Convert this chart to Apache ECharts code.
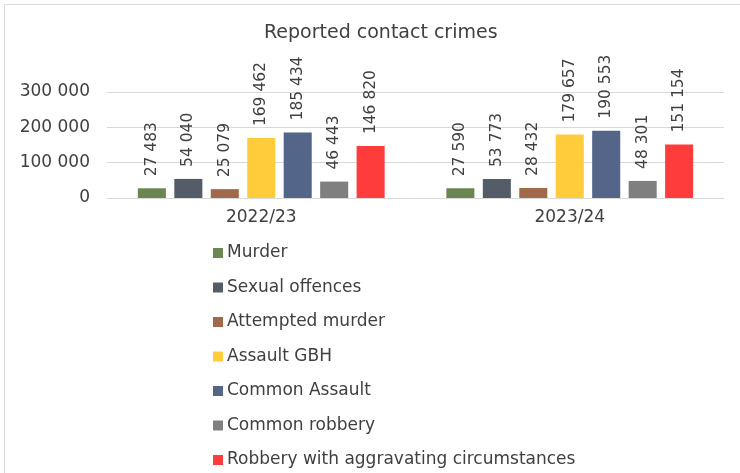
<!DOCTYPE html>
<html>
<head>
<meta charset="utf-8">
<script src="https://cdn.jsdelivr.net/npm/echarts@6/dist/echarts.min.js"></script>
<style>
  html, body { margin: 0; padding: 0; background: #fff; }
  #chart { width: 740px; height: 473px; }
</style>
</head>
<body>
<div id="chart"></div>
<script>
// Reported contact crimes by financial year
const years = ['2022/23', '2023/24'];
const crimeTypes = ['Murder', 'Sexual offences', 'Attempted murder', 'Assault GBH',
  'Common Assault', 'Common robbery', 'Robbery with aggravating circumstances'];
const murder = [27483, 27590];
const sexualOffences = [54040, 53773];
const attemptedMurder = [25079, 28432];
const assaultGBH = [169462, 179657];
const commonAssault = [185434, 190553];
const commonRobbery = [46443, 48301];
const aggravatedRobbery = [146820, 151154];
const yTicks = [0, 100000, 200000, 300000];

const seriesValues = [murder, sexualOffences, attemptedMurder, assaultGBH,
  commonAssault, commonRobbery, aggravatedRobbery];
const colors = ['#6a8752', '#545c67', '#a1694a', '#ffcd3b', '#536589', '#7f7f7f', '#ff3c3c'];

// Space as thousands separator, e.g. 169 462
function fmt(v) {
  return String(v).replace(/\B(?=(\d{3})+(?!\d))/g, ' ');
}

const FONT = 'DejaVu Sans, sans-serif';
const TEXT = '#404040';

const chart = echarts.init(document.getElementById('chart'), null, { renderer: 'canvas' });
chart.setOption({
  animation: false,
  color: colors,
  title: {
    text: 'Reported contact crimes',
    left: 259,
    top: 19,
    textStyle: { fontFamily: FONT, fontSize: 19, fontWeight: 'normal', color: TEXT }
  },
  graphic: [{
    type: 'rect',
    shape: { x: 4.5, y: 4.5, width: 760, height: 500 },
    style: { fill: 'none', stroke: '#d9d9d9', lineWidth: 1 },
    silent: true
  }],
  legend: {
    orient: 'vertical',
    left: 208,
    top: 239,
    height: 230,
    itemWidth: 10,
    itemHeight: 10,
    itemGap: 16.5,
    icon: 'rect',
    textStyle: { fontFamily: FONT, fontSize: 17, color: TEXT, lineHeight: 18, padding: [0, 0, 0, -1] },
    data: crimeTypes
  },
  grid: { left: 107, right: 16, top: 92, height: 106, containLabel: false },
  xAxis: {
    type: 'category',
    data: years,
    axisLine: { lineStyle: { color: '#d9d9d9' } },
    axisTick: { show: false },
    axisLabel: { fontFamily: FONT, fontSize: 17, color: TEXT, margin: 11 }
  },
  yAxis: {
    type: 'value',
    min: yTicks[0],
    max: yTicks[yTicks.length - 1],
    interval: yTicks[1] - yTicks[0],
    axisLine: { show: false },
    axisTick: { show: false },
    splitLine: { lineStyle: { color: '#d9d9d9' } },
    axisLabel: { fontFamily: FONT, fontSize: 17, color: TEXT, margin: 17, formatter: fmt }
  },
  series: crimeTypes.map((name, i) => ({
    name: name,
    type: 'bar',
    data: seriesValues[i],
    barGap: '30%',
    barCategoryGap: '20%',
    label: {
      show: true,
      position: 'top',
      rotate: 90,
      align: 'left',
      verticalAlign: 'middle',
      distance: 12,
      fontFamily: FONT,
      fontSize: 15.5,
      color: TEXT,
      formatter: p => fmt(p.value)
    }
  }))
});
</script>
</body>
</html>
